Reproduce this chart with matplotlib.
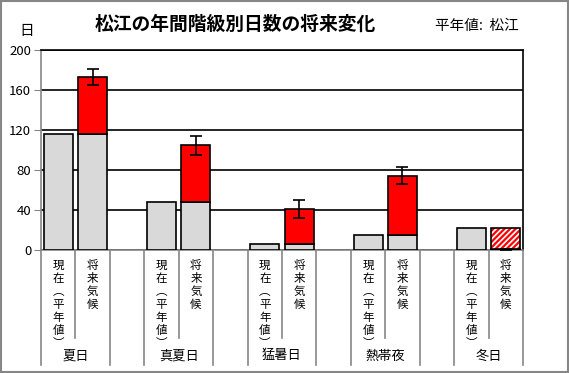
import numpy as np
import matplotlib.pyplot as plt
import matplotlib.transforms as mtransforms
from matplotlib.patches import Rectangle

plt.rcParams['font.family'] = ['Noto Sans CJK JP', 'DejaVu Sans']
plt.rcParams['hatch.linewidth'] = 1.6

# データ
categories = ['夏日', '真夏日', '猛暑日', '熱帯夜', '冬日']
current = [116, 48.5, 6.5, 15, 22.3]     # 現在(平年値)
future = [173, 105, 41.5, 74.5, 1]       # 将来気候
err = [8, 9.5, 9, 8.5, 0.5]
bar_labels = ['現在(平年値)', '将来気候']
yticks = [0, 40, 80, 120, 160, 200]


def vertical(s):
    s = s.replace('(', '\ufe35').replace(')', '\ufe36')
    return '\n'.join(s)


fig = plt.figure(figsize=(5.69, 3.73), dpi=100)
ax = fig.add_axes([41/569, 123/373, 482/569, 200/373])

gray = '#D9D9D9'
w = 0.84
n_slots = len(categories) * 3 - 1

for i, cat in enumerate(categories):
    x0 = i * 3
    x1 = x0 + 1
    ax.bar(x0, current[i], w, color=gray, edgecolor='black', lw=1.2, zorder=3)
    if future[i] >= current[i]:
        ax.bar(x1, current[i], w, color=gray, edgecolor='black', lw=1.2, zorder=3)
        ax.bar(x1, future[i] - current[i], w, bottom=current[i], color='red',
               edgecolor='black', lw=1.2, zorder=3)
    else:
        ax.bar(x1, future[i], w, color=gray, edgecolor='black', lw=1.2, zorder=3)
        ax.bar(x1, current[i] - future[i], w, bottom=future[i], color='white',
               edgecolor='red', hatch='//////', lw=0, zorder=3)
        ax.bar(x1, current[i] - future[i], w, bottom=future[i], fill=False,
               edgecolor='black', lw=1.2, zorder=4)
    ax.errorbar(x1, future[i], yerr=err[i], fmt='none', ecolor='black',
                elinewidth=1.2, capsize=4, capthick=1.2, zorder=5)

ax.set_xlim(-0.5, n_slots - 0.5)
ax.set_ylim(0, 200)
ax.set_yticks(yticks)
ax.yaxis.grid(True, color='black', lw=1.2, zorder=1)
ax.set_axisbelow(True)
ax.tick_params(axis='y', length=5, color='#868686', labelsize=9.5, pad=2)
ax.set_xticks([])
for s in ['top', 'right']:
    ax.spines[s].set_color('black')
    ax.spines[s].set_linewidth(1.2)
for s in ['left', 'bottom']:
    ax.spines[s].set_color('#868686')
    ax.spines[s].set_linewidth(1.2)

# カテゴリ軸ラベル
trans = mtransforms.blended_transform_factory(ax.transData, ax.transAxes)
for k in range(n_slots + 1):
    xb = k - 0.5
    short = (k % 3 == 1)
    ybot = -0.44 if short else -0.575
    ax.plot([xb, xb], [0, ybot], color='#868686', lw=1.2, transform=trans,
            clip_on=False)
for i, cat in enumerate(categories):
    for j, lab in enumerate(bar_labels):
        ax.text(i * 3 + j, -0.045, vertical(lab), transform=trans, ha='center',
                va='top', fontsize=8.3, linespacing=1.0)
    ax.text(i * 3 + 0.5, -0.53, cat, transform=trans, ha='center',
            va='center', fontsize=9.5)

fig.text(235/569, 1 - 24/373, '松江の年間階級別日数の将来変化', ha='center',
         va='center', fontsize=13.5, fontweight='bold')
fig.text(477/569, 1 - 26/373, '平年値:  松江', ha='center', va='center',
         fontsize=10.5)
fig.text(27/569, 1 - 31/373, '日', ha='center', va='center', fontsize=10.5)

fig.patches.append(Rectangle((0.001, 0.002), 0.997, 0.996, transform=fig.transFigure,
                             fill=False, edgecolor='#868686', lw=1.5))

fig.savefig('out.png', dpi=100)
